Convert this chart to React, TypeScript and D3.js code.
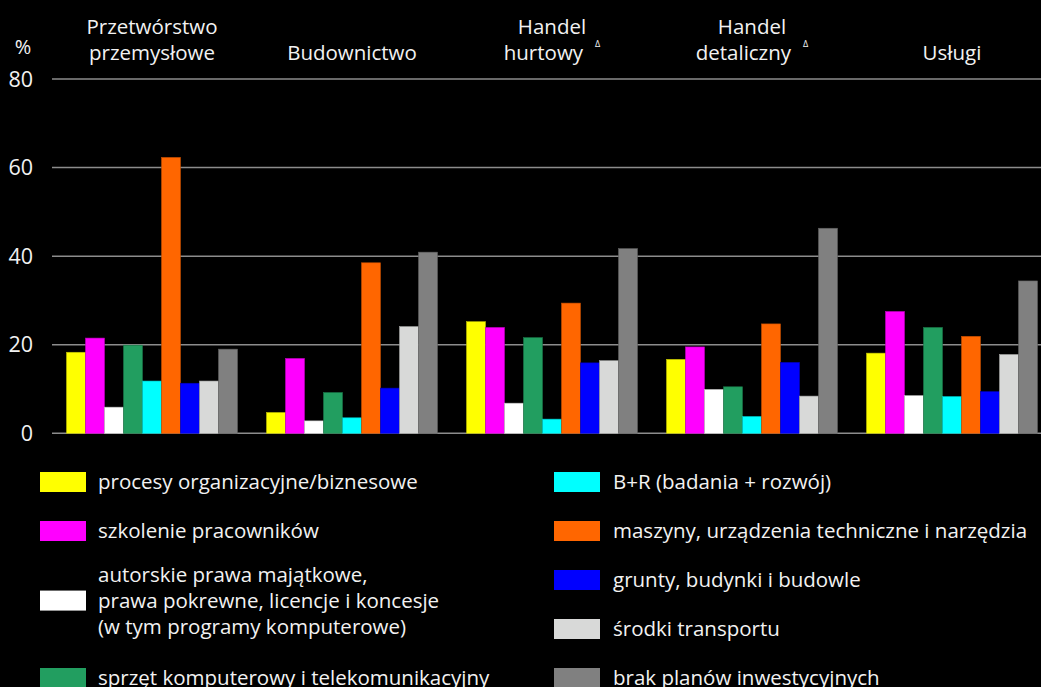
import React from "react";
import * as d3 from "d3";

const categories = ["Przetwórstwo przemysłowe", "Budownictwo", "Handel hurtowy", "Handel detaliczny", "Usługi"];
const categoryLines: string[][] = [["Przetwórstwo", "przemysłowe"], ["Budownictwo"], ["Handel", "hurtowy"], ["Handel", "detaliczny"], ["Usługi"]];
const categoryMark = [false, false, true, true, false];

const seriesNames = [
  "procesy organizacyjne/biznesowe",
  "szkolenie pracowników",
  "autorskie prawa majątkowe, prawa pokrewne, licencje i koncesje (w tym programy komputerowe)",
  "sprzęt komputerowy i telekomunikacyjny",
  "B+R (badania + rozwój)",
  "maszyny, urządzenia techniczne i narzędzia",
  "grunty, budynki i budowle",
  "środki transportu",
  "brak planów inwestycyjnych",
];
const legendLines: string[][] = [
  ["procesy organizacyjne/biznesowe"],
  ["szkolenie pracowników"],
  ["autorskie prawa majątkowe,", "prawa pokrewne, licencje i koncesje", "(w tym programy komputerowe)"],
  ["sprzęt komputerowy i telekomunikacyjny"],
  ["B+R (badania + rozwój)"],
  ["maszyny, urządzenia techniczne i narzędzia"],
  ["grunty, budynki i budowle"],
  ["środki transportu"],
  ["brak planów inwestycyjnych"],
];
const seriesColors = ["#ffff00", "#ff00ff", "#ffffff", "#229e60", "#00ffff", "#ff6600", "#0000ff", "#d8d9d8", "#808080"];

// values[series][category]
const values: number[][] = [
  [18.3, 4.7, 25.2, 16.7, 18.1],
  [21.5, 16.9, 23.9, 19.5, 27.5],
  [5.9, 2.8, 6.8, 9.9, 8.5],
  [19.9, 9.2, 21.6, 10.5, 23.9],
  [11.8, 3.5, 3.2, 3.8, 8.3],
  [62.3, 38.5, 29.4, 24.7, 21.9],
  [11.3, 10.2, 15.9, 16.0, 9.4],
  [11.8, 24.1, 16.4, 8.4, 17.8],
  [19.0, 40.9, 41.7, 46.3, 34.4],
];
const yTicks = [0, 20, 40, 60, 80];

const W = 1041;
const H = 687;
const FONT = "'Open Sans', 'Noto Sans', sans-serif";

export default function App() {
  React.useEffect(() => {
    document.body.style.margin = "0";
    document.body.style.background = "#000";
  }, []);

  const x0 = d3.scaleBand<string>().domain(categories).range([52, 1052]).padding(0);
  const x1 = d3.scaleBand<string>().domain(seriesNames).range([14.5, 185.5]).padding(0);
  const y = d3.scaleLinear().domain([0, 80]).range([433.3, 79]);

  const legendCols = [
    { sw: 40, tx: 98, items: [0, 1, 2, 3], slots: [0, 1, 2.42, 4] },
    { sw: 554, tx: 613, items: [4, 5, 6, 7, 8], slots: [0, 1, 2, 3, 4] },
  ];

  return (
    <svg width={W} height={H} style={{ position: "absolute", left: 0, top: 0, background: "#000" }} fontFamily={FONT}>
      <rect x={0} y={0} width={W} height={H} fill="#000" />
      {yTicks.map((t) => (
        <g key={t}>
          <line x1={52} x2={W} y1={y(t)} y2={y(t)} stroke="#8c8c8c" strokeWidth={1.5} />
          <text x={33} y={y(t)} dy="0.36em" textAnchor="end" fill="#f2f2f2" fontSize={21.5}>
            {t}
          </text>
        </g>
      ))}
      <text x={23} y={54} textAnchor="middle" fill="#f2f2f2" fontSize={20}>%</text>
      {categories.map((c, ci) => {
        const cx = (x0(c) as number) + x0.bandwidth() / 2;
        const lines = categoryLines[ci];
        return (
          <text key={c} x={cx} textAnchor="middle" fill="#f2f2f2" fontSize={20.5}>
            {lines.map((l, li) => (
              <tspan key={li} x={cx} y={60 - (lines.length - 1 - li) * 26}>
                {l}
                {categoryMark[ci] && li === lines.length - 1 ? (
                  <tspan fontSize={9} dy={-13} dx={12}>Δ</tspan>
                ) : null}
              </tspan>
            ))}
          </text>
        );
      })}
      {categories.map((c, ci) => (
        <g key={c} transform={`translate(${x0(c)},0)`}>
          {seriesNames.map((s, si) => {
            const v = values[si][ci];
            return (
              <rect
                key={s}
                x={x1(s) as number}
                y={y(v)}
                width={x1.bandwidth()}
                height={y(0) - y(v)}
                fill={seriesColors[si]}
                stroke={d3.color(seriesColors[si])!.darker(0.8).formatHex()}
                strokeWidth={0.6}
              />
            );
          })}
        </g>
      ))}
      {legendCols.map((col, k) => (
        <g key={k}>
          {col.items.map((si, j) => {
            const cy = 482 + col.slots[j] * 49;
            const lines = legendLines[si];
            return (
              <g key={si}>
                <rect x={col.sw} y={cy - 10} width={46} height={20} fill={seriesColors[si]} />
                <text fill="#f2f2f2" fontSize={20.5}>
                  {lines.map((l, li) => (
                    <tspan key={li} x={col.tx} y={cy + 7 + (li - (lines.length - 1) / 2) * 26}>
                      {l}
                    </tspan>
                  ))}
                </text>
              </g>
            );
          })}
        </g>
      ))}
    </svg>
  );
}
